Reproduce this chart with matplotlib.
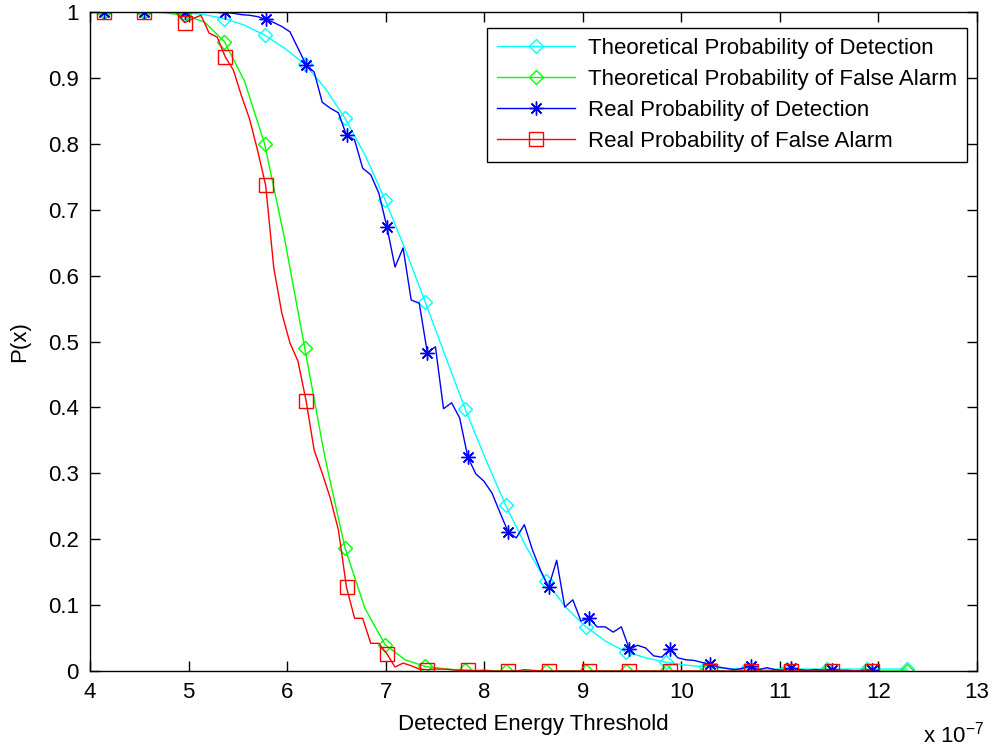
import numpy as np
import matplotlib
matplotlib.use("Agg")
import matplotlib.pyplot as plt

plt.rcParams['font.family'] = ['Liberation Sans', 'DejaVu Sans']
plt.rcParams['mathtext.fontset'] = 'custom'
plt.rcParams['mathtext.rm'] = 'Liberation Sans'

# threshold sweeps (x in units of 1e-7)
real_x0, real_step = 4.142, 0.08202
theo_x0, theo_step = 4.142, 0.2037

# real curves, one value per threshold step
real_pd = [1.0, 1.0, 1.0, 1.0, 1.0, 1.0, 1.0, 1.0, 1.0, 1.0,
           1.0, 1.0, 1.0, 1.0, 1.0, 1.0, 0.998, 0.996, 0.995, 0.993,
           0.989, 0.984, 0.978, 0.970, 0.945, 0.920, 0.909, 0.863, 0.854, 0.847,
           0.813, 0.806, 0.763, 0.753, 0.725, 0.674, 0.613, 0.642, 0.563, 0.558,
           0.483, 0.492, 0.398, 0.407, 0.384, 0.325, 0.299, 0.288, 0.270, 0.240,
           0.211, 0.202, 0.222, 0.184, 0.153, 0.127, 0.168, 0.097, 0.108, 0.076,
           0.080, 0.067, 0.067, 0.059, 0.067, 0.033, 0.039, 0.035, 0.023, 0.021,
           0.033, 0.020, 0.017, 0.016, 0.013, 0.010, 0.006, 0.004, 0.002, 0.004,
           0.007, 0.002, 0.005, 0.002, 0.001, 0.005, 0.002, 0.001, 0.002, 0.001,
           0.002, 0.001, 0.001, 0.000, 0.001, 0.001]
real_pfa = [1.0, 1.0, 1.0, 1.0, 1.0, 1.0, 1.0, 1.0, 1.0, 0.999,
            0.984, 0.990, 0.995, 0.968, 0.962, 0.932, 0.912, 0.873, 0.838, 0.790,
            0.737, 0.612, 0.543, 0.498, 0.470, 0.410, 0.335, 0.300, 0.262, 0.214,
            0.127, 0.080, 0.080, 0.042, 0.042, 0.026, 0.006, 0.012, 0.008, 0.003,
            0.002, 0.003, 0.003, 0.002, 0.001, 0.001, 0.000, 0.001, 0.000, 0.000,
            0.000, 0.000, 0.002, 0.001, 0.000, 0.000, 0.000, 0.000, 0.000, 0.000,
            0.000, 0.000, 0.000, 0.000, 0.000, 0.000, 0.000, 0.000, 0.000, 0.000,
            0.000, 0.000, 0.000, 0.000, 0.000, 0.000, 0.000, 0.000, 0.000, 0.000,
            0.000, 0.000, 0.000, 0.000, 0.000, 0.000, 0.000, 0.000, 0.000, 0.000,
            0.000, 0.000, 0.000, 0.000, 0.000, 0.000]

# theoretical curves
theo_pd = [1.0, 1.0, 1.0, 1.0, 0.999, 0.996, 0.990, 0.980, 0.965, 0.945,
           0.921, 0.885, 0.839, 0.783, 0.715, 0.640, 0.560, 0.478, 0.397, 0.322,
           0.252, 0.190, 0.137, 0.097, 0.067, 0.045, 0.029, 0.020, 0.013, 0.009,
           0.006, 0.004, 0.003, 0.003, 0.003, 0.003, 0.003, 0.003, 0.003, 0.003,
           0.003]
theo_pfa = [1.0, 1.0, 1.0, 0.999, 0.995, 0.985, 0.955, 0.895, 0.800, 0.655,
            0.490, 0.325, 0.187, 0.095, 0.040, 0.017, 0.007, 0.003, 0.001, 0.001,
            0.000, 0.000, 0.000, 0.000, 0.000, 0.000, 0.000, 0.000, 0.000, 0.000,
            0.000, 0.000, 0.000, 0.000, 0.000, 0.000, 0.000, 0.000, 0.000, 0.000,
            0.000]

labels = ["Theoretical Probability of Detection",
          "Theoretical Probability of False Alarm",
          "Real Probability of Detection",
          "Real Probability of False Alarm"]

real_x = real_x0 + real_step * np.arange(len(real_pd))
theo_x = theo_x0 + theo_step * np.arange(len(theo_pd))

FS = 16

fig = plt.figure(figsize=(9.94, 7.49), dpi=100)
ax = fig.add_axes([90/994, 1 - 671/749, (977-90)/994, (671-12)/749])

lw = 1.0
ax.plot(theo_x, theo_pd, color=(0, 1, 1), lw=lw, marker='D', ms=7, mfc='none',
        mew=1.0, markevery=2, label=labels[0])
ax.plot(theo_x, theo_pfa, color=(0, 1, 0), lw=lw, marker='D', ms=7, mfc='none',
        mew=1.0, markevery=2, label=labels[1])
ax.plot(real_x, real_pd, color=(0, 0, 1), lw=lw, marker=(8, 2, 0), ms=10,
        mew=1.0, markevery=5, label=labels[2])
ax.plot(real_x, real_pfa, color=(1, 0, 0), lw=lw, marker='s', ms=10, mfc='none',
        mew=1.0, markevery=5, label=labels[3])

ax.set_xlim(4, 13)
ax.set_ylim(0, 1)
ax.set_xticks(np.arange(4, 14, 1))
ax.set_yticks(np.arange(0, 1.01, 0.1))
ax.set_yticklabels(['0', '0.1', '0.2', '0.3', '0.4', '0.5', '0.6', '0.7', '0.8', '0.9', '1'])
ax.tick_params(direction='in', length=7, width=1, top=True, right=True,
               labelsize=FS, pad=8)
for s in ax.spines.values():
    s.set_linewidth(1.0)

ax.set_xlabel("Detected Energy Threshold", fontsize=FS, labelpad=8)
ax.set_ylabel("P(x)", fontsize=FS, labelpad=13)
fig.text(923/994, 1 - 742/749, r"x 10$^{-7}$", fontsize=FS, ha='left', va='baseline')

leg = ax.legend(loc='upper right', fontsize=FS, numpoints=1,
                handlelength=3.5, handletextpad=0.6, labelspacing=0.45,
                borderpad=0.45, borderaxespad=0, fancybox=False, framealpha=1,
                edgecolor='black')
leg.set_bbox_to_anchor((967/994, 1 - 28/749), transform=fig.transFigure)
leg.get_frame().set_linewidth(1.0)

fig.savefig("out.png", dpi=100)
